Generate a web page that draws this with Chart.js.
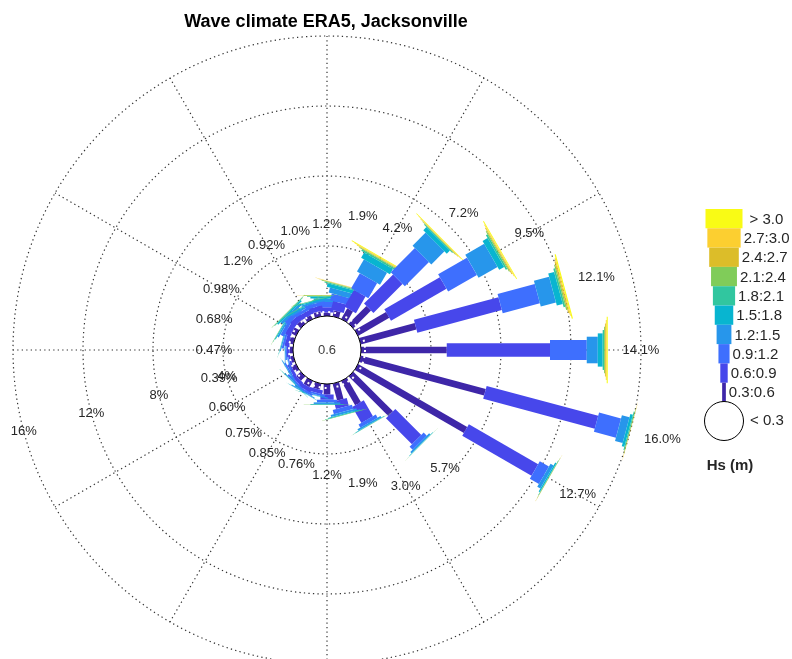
<!DOCTYPE html>
<html lang="en">
<head>
<meta charset="UTF-8">
<title>Wave climate ERA5, Jacksonville</title>
<script src="https://cdn.jsdelivr.net/npm/chart.js"></script>
<style>
    body { margin: 0; background: #fff; }
    #wrap { width: 792px; height: 659px; }
</style>
</head>
<body>
<div id="wrap"><canvas id="rose"></canvas></div>
<script>
// directions waves come from, degrees clockwise from north
const directions = [0, 15, 30, 45, 60, 75, 90, 105, 120, 135, 150, 165,
                    180, 195, 210, 225, 240, 255, 270, 285, 300, 315, 330, 345];
const hsLabels = ['0.3:0.6', '0.6:0.9', '0.9:1.2', '1.2:1.5', '1.5:1.8',
                  '1.8:2.1', '2.1:2.4', '2.4:2.7', '2.7:3.0', '> 3.0'];
const hsColors = ['#3e26a8', '#4747eb', '#3e6ffe', '#2796eb', '#08b5d0',
                  '#31c69f', '#80cc59', '#dcbd29', '#fccf30', '#f9fb15'];
const calmPct = 0.6;
const radialTicks = [4, 8, 12, 16];

// % of time per Hs class, one value per direction
const hs03_06 = [0.2, 0.35, 0.7, 1.43, 2.06, 3.3, 4.9, 7.4, 7.2, 3.2, 1.6, 1.0, 0.6, 0.35, 0.4, 0.35, 0.28, 0.18, 0.2, 0.25, 0.3, 0.3, 0.25, 0.3];
const hs06_09 = [0.3, 0.5, 1.1, 2.35, 3.66, 5.0, 5.9, 6.6, 4.57, 2.1, 1.05, 0.45, 0.3, 0.22, 0.25, 0.22, 0.18, 0.12, 0.15, 0.22, 0.3, 0.35, 0.3, 0.3];
const hs09_12 = [0.3, 0.4, 1.0, 1.95, 1.9, 2.2, 2.1, 1.3, 0.6, 0.25, 0.2, 0.25, 0.15, 0.11, 0.12, 0.11, 0.09, 0.06, 0.08, 0.12, 0.2, 0.25, 0.17, 0.2];
const hs12_15 = [0.2, 0.3, 0.8, 1.06, 1.25, 0.9, 0.63, 0.45, 0.2, 0.1, 0.1, 0.12, 0.09, 0.05, 0.05, 0.05, 0.04, 0.02, 0.03, 0.06, 0.1, 0.15, 0.1, 0.1];
const hs15_18 = [0.1, 0.2, 0.35, 0.25, 0.33, 0.35, 0.28, 0.15, 0.08, 0.03, 0.03, 0.05, 0.04, 0.02, 0.02, 0.01, 0.01, 0.01, 0.01, 0.02, 0.05, 0.09, 0.06, 0.06];
const hs18_21 = [0.05, 0.06, 0.09, 0.05, 0.1, 0.1, 0.08, 0.06, 0.03, 0.01, 0.01, 0.02, 0.01, 0.01, 0.01, 0.01, 0, 0, 0, 0.01, 0.02, 0.04, 0.03, 0.03];
const hs21_24 = [0.03, 0.04, 0.05, 0.03, 0.06, 0.07, 0.05, 0.02, 0.01, 0.01, 0.01, 0.01, 0.01, 0, 0, 0, 0, 0, 0, 0, 0.01, 0.02, 0.01, 0.01];
const hs24_27 = [0.01, 0.02, 0.04, 0.03, 0.05, 0.06, 0.05, 0.01, 0.01, 0, 0, 0, 0, 0, 0, 0, 0, 0, 0, 0, 0, 0, 0, 0];
const hs27_30 = [0.01, 0.02, 0.03, 0.02, 0.04, 0.05, 0.05, 0.01, 0, 0, 0, 0, 0, 0, 0, 0, 0, 0, 0, 0, 0, 0, 0, 0];
const hs30_up = [0, 0.01, 0.04, 0.03, 0.05, 0.07, 0.06, 0, 0, 0, 0, 0, 0, 0, 0, 0, 0, 0, 0, 0, 0, 0, 0, 0];

const classes = [hs03_06, hs06_09, hs09_12, hs12_15, hs15_18, hs18_21, hs21_24, hs24_27, hs27_30, hs30_up];

// layout (pixels)
const CX = 327, CY = 350, PX_PER_PCT = 17.5;
const CALM_R = 34 / PX_PER_PCT;      // calm circle radius in % units
const HALF_W = 0.19;                 // bar half width per class step, % units
const FONT = '"Liberation Sans", Arial, Helvetica, sans-serif';
const TXT = '#262626';

function fmtPct(p) {
    p = Math.round(p * 100) / 100;
    return (p < 1 ? p.toFixed(2) : p.toFixed(1)) + '%';
}

const rosePlugin = {
    id: 'rose',
    afterDraw(chart) {
        const ctx = chart.ctx;
        const xs = chart.scales.x, ys = chart.scales.y;
        const pt = (r, deg) => {
            const a = deg * Math.PI / 180;
            return { x: xs.getPixelForValue(r * Math.cos(a)), y: ys.getPixelForValue(r * Math.sin(a)) };
        };
        const unit = xs.getPixelForValue(1) - xs.getPixelForValue(0);
        const c = pt(0, 0);
        const rOuter = CALM_R + radialTicks[radialTicks.length - 1];

        ctx.save();
        // grid
        ctx.strokeStyle = '#333333';
        ctx.lineWidth = 1.2;
        ctx.setLineDash([1.3, 3.2]);
        radialTicks.forEach(t => {
            ctx.beginPath();
            ctx.arc(c.x, c.y, (CALM_R + t) * unit, 0, Math.PI * 2);
            ctx.stroke();
        });
        for (let a = 0; a < 360; a += 30) {
            const p0 = pt(CALM_R, a), p1 = pt(rOuter, a);
            ctx.beginPath();
            ctx.moveTo(p0.x, p0.y);
            ctx.lineTo(p1.x, p1.y);
            ctx.stroke();
        }
        ctx.setLineDash([]);

        // stacked bars
        directions.forEach((dir, i) => {
            const th = 90 - dir;
            const a = th * Math.PI / 180;
            const px = Math.sin(a), py = Math.cos(a);
            let cum = 0;
            classes.forEach((series, k) => {
                const v = series[i];
                if (!v) return;
                const p0 = pt(CALM_R + cum, th), p1 = pt(CALM_R + cum + v, th);
                const h = HALF_W * (k + 1) * unit;
                ctx.fillStyle = hsColors[k];
                ctx.beginPath();
                ctx.moveTo(p0.x + h * px, p0.y + h * py);
                ctx.lineTo(p1.x + h * px, p1.y + h * py);
                ctx.lineTo(p1.x - h * px, p1.y - h * py);
                ctx.lineTo(p0.x - h * px, p0.y - h * py);
                ctx.closePath();
                ctx.fill();
                cum += v;
            });
        });

        // white dotted ring + calm circle
        ctx.strokeStyle = '#ffffff';
        ctx.lineWidth = 2;
        ctx.setLineDash([2, 4]);
        ctx.beginPath();
        ctx.arc(c.x, c.y, CALM_R * unit + 4, 0, Math.PI * 2);
        ctx.stroke();
        ctx.setLineDash([]);
        ctx.fillStyle = '#ffffff';
        ctx.strokeStyle = '#000000';
        ctx.lineWidth = 1;
        ctx.beginPath();
        ctx.arc(c.x, c.y, CALM_R * unit, 0, Math.PI * 2);
        ctx.fill();
        ctx.stroke();

        ctx.textAlign = 'center';
        ctx.textBaseline = 'middle';
        ctx.fillStyle = '#404040';
        ctx.font = '13px ' + FONT;
        ctx.fillText(String(calmPct), c.x, c.y);

        // direction totals
        ctx.fillStyle = TXT;
        directions.forEach((dir, i) => {
            const tot = classes.reduce((s, ser) => s + ser[i], 0);
            const r = CALM_R + tot + (tot < 4 ? 4.05 : 1.9);
            const p = pt(r, 90 - dir);
            ctx.fillText(fmtPct(tot), p.x, p.y);
        });

        // radial tick labels
        radialTicks.forEach(t => {
            const p = pt(CALM_R + t, 195);
            ctx.fillText(t + '%', p.x, p.y);
        });

        // title
        ctx.font = 'bold 18px ' + FONT;
        ctx.fillStyle = '#000';
        ctx.fillText('Wave climate ERA5, Jacksonville', 326, 22);

        // legend
        const lx = 724, top = 209, bh = 19.3;
        ctx.font = '15px ' + FONT;
        ctx.textAlign = 'left';
        for (let k = hsLabels.length - 1; k >= 0; k--) {
            const row = hsLabels.length - 1 - k;
            const w = 3.7 * (k + 1);
            const y = top + row * bh;
            ctx.fillStyle = hsColors[k];
            ctx.fillRect(lx - w / 2, y, w, bh);
            ctx.fillStyle = TXT;
            ctx.fillText(hsLabels[k], lx + w / 2 + (k === 9 ? 7 : 3), y + bh / 2 + 1);
        }
        const cy = top + hsLabels.length * bh + 19;
        ctx.fillStyle = '#fff';
        ctx.strokeStyle = '#000';
        ctx.beginPath();
        ctx.arc(lx, cy, 19.5, 0, Math.PI * 2);
        ctx.fill();
        ctx.stroke();
        ctx.fillStyle = TXT;
        ctx.fillText('< 0.3', 750, cy);
        ctx.textAlign = 'center';
        ctx.font = 'bold 15px ' + FONT;
        ctx.fillText('Hs (m)', 730, 466);
        ctx.restore();
    }
};

const W = 792, H = 659;
new Chart(document.getElementById('rose'), {
    type: 'scatter',
    data: { datasets: [] },
    options: {
        responsive: true,
        maintainAspectRatio: false,
        animation: false,
        layout: { padding: 0 },
        plugins: { legend: { display: false }, tooltip: { enabled: false } },
        scales: {
            x: { display: false, min: -CX / PX_PER_PCT, max: (W - CX) / PX_PER_PCT },
            y: { display: false, min: -(H - CY) / PX_PER_PCT, max: CY / PX_PER_PCT }
        }
    },
    plugins: [rosePlugin]
});
</script>
</body>
</html>
